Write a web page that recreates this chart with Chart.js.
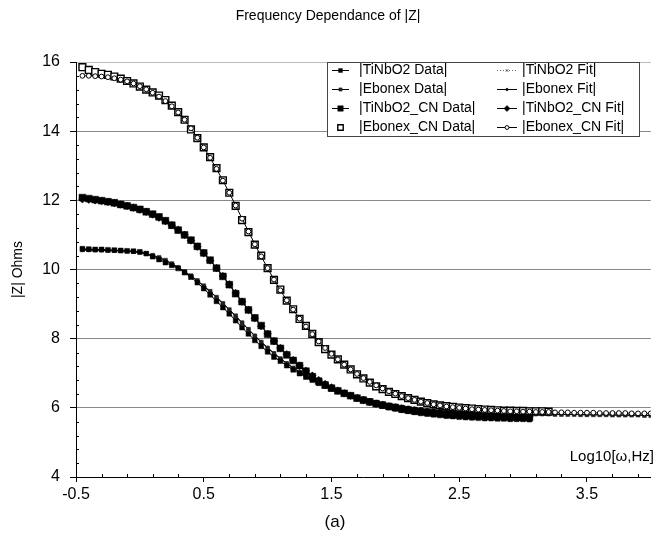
<!DOCTYPE html>
<html>
<head>
<meta charset="utf-8">
<script src="https://cdn.jsdelivr.net/npm/chart.js@4.4.1/dist/chart.umd.min.js"></script>
<style>
  body { margin: 0; background: #fff; }
  #wrap { width: 657px; height: 546px; position: relative; }
</style>
</head>
<body>
<div id="wrap"><canvas id="zChart"></canvas></div>
<script>
// log10(omega) sample points shared by all series
const logFreq = [
  -0.45, -0.4, -0.35, -0.3, -0.25, -0.2, -0.15, -0.1, -0.05, 0,
  0.05, 0.1, 0.15, 0.2, 0.25, 0.3, 0.35, 0.4, 0.45, 0.5,
  0.55, 0.6, 0.65, 0.7, 0.75, 0.8, 0.85, 0.9, 0.95, 1,
  1.05, 1.1, 1.15, 1.2, 1.25, 1.3, 1.35, 1.4, 1.45, 1.5,
  1.55, 1.6, 1.65, 1.7, 1.75, 1.8, 1.85, 1.9, 1.95, 2,
  2.05, 2.1, 2.15, 2.2, 2.25, 2.3, 2.35, 2.4, 2.45, 2.5,
  2.55, 2.6, 2.65, 2.7, 2.75, 2.8, 2.85, 2.9, 2.95, 3,
  3.05, 3.1, 3.15, 3.2, 3.25, 3.3, 3.35, 3.4, 3.45, 3.5,
  3.55, 3.6, 3.65, 3.7, 3.75, 3.8, 3.85, 3.9, 3.95, 4,
];

const tiNbO2Data = [
  10.6, 10.59, 10.58, 10.58, 10.57, 10.56, 10.55, 10.54, 10.53, 10.51,
  10.46, 10.37, 10.29, 10.2, 10.12, 10.03, 9.91, 9.78, 9.62, 9.45,
  9.27, 9.08, 8.9, 8.72, 8.52, 8.32, 8.14, 7.95, 7.78, 7.62,
  7.47, 7.35, 7.22, 7.1, 6.99, 6.89, 6.8, 6.71, 6.63, 6.55,
  6.48, 6.41, 6.34, 6.27, 6.21, 6.15, 6.1, 6.05, 6.01, 5.97,
  5.93, 5.9, 5.87, 5.84, 5.82, 5.8, 5.78, 5.76, 5.75, 5.73,
  5.72, 5.71, 5.7, 5.69, 5.69, 5.68, 5.68, 5.67, 5.67, 5.67,
  5.66,
];

const ebonexData = [
  10.57, 10.57, 10.56, 10.56, 10.55, 10.55, 10.54, 10.53, 10.52, 10.5,
  10.46, 10.41, 10.35, 10.27, 10.17, 10.06, 9.94, 9.82, 9.68, 9.53,
  9.37, 9.2, 9.02, 8.84, 8.66, 8.46, 8.27, 8.08, 7.9, 7.73,
  7.57, 7.42, 7.28, 7.15, 7.03, 6.92, 6.82, 6.73, 6.65, 6.57,
  6.5, 6.43, 6.37, 6.31, 6.26, 6.21, 6.16, 6.12, 6.08, 6.05,
  6.02, 5.99, 5.97, 5.95, 5.93, 5.92, 5.9, 5.89, 5.88, 5.87,
  5.86, 5.86, 5.85, 5.85, 5.84, 5.84, 5.84, 5.83, 5.83, 5.83,
  5.82, 5.82, 5.82, 5.82, 5.81, 5.81, 5.81, 5.81, 5.8, 5.8,
  5.8, 5.8, 5.8, 5.79, 5.79, 5.79, 5.79, 5.79, 5.78, 5.78,
];

const tiNbO2CnData = [
  12.08, 12.05, 12.02, 11.99, 11.96, 11.93, 11.88, 11.84, 11.79, 11.74,
  11.67, 11.6, 11.52, 11.41, 11.28, 11.14, 11.0, 10.85, 10.67, 10.48,
  10.27, 10.04, 9.8, 9.56, 9.3, 9.07, 8.83, 8.6, 8.38, 8.13,
  7.93, 7.72, 7.53, 7.37, 7.22, 7.06, 6.9, 6.77, 6.66, 6.57,
  6.49, 6.42, 6.35, 6.28, 6.22, 6.17, 6.12, 6.08, 6.04, 6.01,
  5.97, 5.94, 5.91, 5.89, 5.87, 5.85, 5.83, 5.81, 5.8, 5.79,
  5.78, 5.77, 5.76, 5.75, 5.75, 5.74, 5.74, 5.73, 5.73, 5.72,
  5.72,
];

const ebonexCnData = [
  15.85, 15.77, 15.71, 15.66, 15.63, 15.58, 15.52, 15.45, 15.38, 15.29,
  15.2, 15.12, 15.03, 14.9, 14.74, 14.55, 14.33, 14.05, 13.8, 13.53,
  13.25, 12.93, 12.58, 12.22, 11.84, 11.43, 11.08, 10.72, 10.4, 10.04,
  9.7, 9.42, 9.1, 8.85, 8.57, 8.37, 8.14, 7.9, 7.7, 7.54,
  7.4, 7.25, 7.11, 6.97, 6.85, 6.73, 6.62, 6.54, 6.46, 6.4,
  6.34, 6.28, 6.23, 6.18, 6.14, 6.1, 6.07, 6.05, 6.03, 6.01,
  5.99, 5.98, 5.96, 5.95, 5.94, 5.93, 5.92, 5.92, 5.91, 5.91,
  5.9, 5.9, 5.9, 5.89,
];

const tiNbO2Fit = [
  10.58, 10.58, 10.57, 10.57, 10.56, 10.56, 10.55, 10.54, 10.52, 10.5,
  10.46, 10.4, 10.32, 10.23, 10.13, 10.02, 9.9, 9.76, 9.61, 9.45,
  9.28, 9.1, 8.91, 8.72, 8.53, 8.34, 8.15, 7.97, 7.8, 7.64,
  7.49, 7.35, 7.22, 7.1, 6.99, 6.89, 6.79, 6.7, 6.62, 6.54,
  6.47, 6.4, 6.34, 6.28, 6.22, 6.17, 6.12, 6.07, 6.03, 5.99,
  5.96, 5.93, 5.9, 5.87, 5.85, 5.83, 5.81, 5.79, 5.78, 5.76,
  5.75, 5.74, 5.73, 5.72, 5.72, 5.71, 5.7, 5.7, 5.69, 5.69,
  5.69,
];

const ebonexFit = [
  10.56, 10.56, 10.56, 10.55, 10.55, 10.54, 10.54, 10.53, 10.51, 10.49,
  10.45, 10.4, 10.34, 10.26, 10.17, 10.06, 9.94, 9.81, 9.67, 9.52,
  9.36, 9.19, 9.02, 8.84, 8.65, 8.46, 8.27, 8.09, 7.91, 7.74,
  7.58, 7.43, 7.29, 7.16, 7.04, 6.93, 6.83, 6.74, 6.65, 6.57,
  6.5, 6.44, 6.38, 6.32, 6.27, 6.22, 6.17, 6.13, 6.09, 6.06,
  6.03, 6.0, 5.98, 5.96, 5.94, 5.92, 5.91, 5.9, 5.89, 5.88,
  5.87, 5.86, 5.86, 5.85, 5.85, 5.84, 5.84, 5.84, 5.83, 5.83,
  5.83, 5.82, 5.82, 5.82, 5.82, 5.81, 5.81, 5.81, 5.81, 5.8,
  5.8, 5.8, 5.8, 5.8, 5.79, 5.79, 5.79, 5.79, 5.79, 5.78,
];

const tiNbO2CnFit = [
  12.03, 12.02, 12.0, 11.98, 11.95, 11.92, 11.88, 11.84, 11.79, 11.73,
  11.67, 11.59, 11.5, 11.4, 11.28, 11.15, 11.0, 10.84, 10.66, 10.47,
  10.26, 10.04, 9.81, 9.57, 9.32, 9.07, 8.83, 8.59, 8.36, 8.14,
  7.93, 7.73, 7.55, 7.38, 7.22, 7.07, 6.93, 6.8, 6.69, 6.59,
  6.5, 6.42, 6.35, 6.28, 6.22, 6.17, 6.12, 6.08, 6.04, 6.01,
  5.98, 5.95, 5.92, 5.9, 5.88, 5.86, 5.84, 5.83, 5.81, 5.8,
  5.79, 5.78, 5.77, 5.77, 5.76, 5.76, 5.75, 5.75, 5.75, 5.74,
  5.74,
];

const ebonexCnFit = [
  15.6, 15.6, 15.59, 15.58, 15.56, 15.53, 15.49, 15.44, 15.38, 15.3,
  15.21, 15.11, 15.0, 14.87, 14.72, 14.54, 14.33, 14.08, 13.81, 13.53,
  13.23, 12.91, 12.57, 12.22, 11.85, 11.47, 11.1, 10.73, 10.38, 10.04,
  9.71, 9.4, 9.11, 8.84, 8.58, 8.35, 8.13, 7.92, 7.73, 7.56,
  7.4, 7.25, 7.11, 6.98, 6.86, 6.75, 6.65, 6.56, 6.48, 6.41,
  6.34, 6.28, 6.23, 6.18, 6.14, 6.1, 6.07, 6.04, 6.02, 6.0,
  5.98, 5.96, 5.95, 5.94, 5.93, 5.92, 5.91, 5.9, 5.9, 5.89,
  5.89, 5.88, 5.88, 5.88, 5.87, 5.87, 5.87, 5.86, 5.86, 5.86,
  5.86, 5.85, 5.85, 5.85, 5.85, 5.85, 5.84, 5.84, 5.84, 5.84,
];

const xTickLabels = [-0.5, 0.5, 1.5, 2.5, 3.5];
const yTickLabels = [4, 6, 8, 10, 12, 14, 16];

const FONT = "'Liberation Sans', Arial, sans-serif";

function toPoints(values) {
  return values.map((v, i) => ({ x: logFreq[i], y: v }));
}

const datasets = [
  {
    label: "|TiNbO2 Data|",
    data: toPoints(tiNbO2Data),
    borderColor: "#000",
    borderWidth: 1,
    pointStyle: "rect",
    pointRadius: 3.4,
    pointBackgroundColor: "#000",
    pointBorderColor: "#000",
    pointBorderWidth: 0.5,
    order: 5,
  },
  {
    label: "|Ebonex Data|",
    data: toPoints(ebonexData),
    borderColor: "#000",
    borderWidth: 1,
    pointStyle: "rect",
    pointRadius: 2.8,
    pointBackgroundColor: "#222",
    pointBorderColor: "#222",
    pointBorderWidth: 0.5,
    order: 6,
  },
  {
    label: "|TiNbO2_CN Data|",
    data: toPoints(tiNbO2CnData),
    borderColor: "#000",
    borderWidth: 1,
    pointStyle: "rect",
    pointRadius: 4.8,
    pointBackgroundColor: "#000",
    pointBorderColor: "#000",
    pointBorderWidth: 0.5,
    order: 4,
  },
  {
    label: "|Ebonex_CN Data|",
    data: toPoints(ebonexCnData),
    showLine: false,
    borderColor: "#000",
    pointStyle: "rect",
    pointRadius: 4.8,
    pointBackgroundColor: "#fff",
    pointBorderColor: "#000",
    pointBorderWidth: 1.4,
    order: 3,
  },
  {
    label: "|TiNbO2 Fit|",
    data: toPoints(tiNbO2Fit),
    borderColor: "#666",
    borderWidth: 1,
    borderDash: [1, 2],
    pointStyle: "crossRot",
    pointRadius: 2.2,
    pointBorderColor: "#555",
    pointBorderWidth: 1,
    order: 7,
  },
  {
    label: "|Ebonex Fit|",
    data: toPoints(ebonexFit),
    borderColor: "#000",
    borderWidth: 1,
    pointStyle: "circle",
    pointRadius: 1.6,
    pointBackgroundColor: "#000",
    pointBorderColor: "#000",
    pointBorderWidth: 0.5,
    order: 8,
  },
  {
    label: "|TiNbO2_CN Fit|",
    data: toPoints(tiNbO2CnFit),
    borderColor: "#000",
    borderWidth: 1,
    pointStyle: "rectRot",
    pointRadius: 3.8,
    pointBackgroundColor: "#000",
    pointBorderColor: "#000",
    pointBorderWidth: 0.5,
    order: 2,
  },
  {
    label: "|Ebonex_CN Fit|",
    data: toPoints(ebonexCnFit),
    borderColor: "#000",
    borderWidth: 1,
    pointStyle: "circle",
    pointRadius: 2.4,
    pointBackgroundColor: "#fff",
    pointBorderColor: "#000",
    pointBorderWidth: 1,
    order: 1,
  },
];

function drawMarker(ctx, ds, x, y, scale) {
  ctx.save();
  ctx.fillStyle = ds.pointBackgroundColor || "#000";
  ctx.strokeStyle = ds.pointBorderColor || "#000";
  ctx.lineWidth = ds.pointBorderWidth || 1;
  Chart.helpers.drawPoint(ctx, {
    pointStyle: ds.pointStyle,
    radius: ds.pointRadius * scale,
    rotation: 0,
    borderWidth: ds.pointBorderWidth || 1,
  }, x, y);
  ctx.restore();
}

// legend box in the top right corner of the plot, two columns
const boxLegend = {
  id: "boxLegend",
  afterDraw(chart) {
    const ctx = chart.ctx;
    const left = 327, top = 62, right = 639, bottom = 136;
    ctx.save();
    ctx.fillStyle = "#fff";
    ctx.fillRect(left, top, right - left, bottom - top);
    ctx.strokeStyle = "#444";
    ctx.lineWidth = 1;
    ctx.strokeRect(left + 0.5, top + 0.5, right - left, bottom - top);
    ctx.font = "14px " + FONT;
    ctx.textBaseline = "middle";
    const rows = [70, 89, 108, 127];
    const cols = [
      { x0: 332, x1: 349, text: 359 },
      { x0: 497, x1: 517, text: 522 },
    ];
    for (let c = 0; c < 2; c++) {
      for (let r = 0; r < 4; r++) {
        const ds = datasets[c * 4 + r];
        const y = rows[r];
        const col = cols[c];
        if (ds.showLine !== false) {
          ctx.save();
          ctx.strokeStyle = ds.borderColor;
          ctx.lineWidth = 1;
          ctx.setLineDash(ds.borderDash || []);
          ctx.beginPath();
          ctx.moveTo(col.x0, y + 0.5);
          ctx.lineTo(col.x1, y + 0.5);
          ctx.stroke();
          ctx.restore();
        }
        drawMarker(ctx, ds, (col.x0 + col.x1) / 2, y + 0.5, 0.8);
        ctx.fillStyle = "#000";
        ctx.fillText(ds.label, col.text, y);
      }
    }
    ctx.restore();
  },
};

// minor tick marks and the extra labels inside / under the plot
const extras = {
  id: "extras",
  afterDraw(chart) {
    const ctx = chart.ctx;
    const xs = chart.scales.x;
    const ys = chart.scales.y;
    const area = chart.chartArea;
    ctx.save();
    ctx.strokeStyle = "#000";
    ctx.lineWidth = 1;
    ctx.beginPath();
    for (let k = 1; k < 30; k++) {
      if (k % 5 === 0) continue;
      const py = Math.round(ys.getPixelForValue(4 + k * 0.4)) + 0.5;
      ctx.moveTo(area.left, py);
      ctx.lineTo(area.left + 3, py);
    }
    for (let k = 1; k <= 22; k++) {
      if (k % 5 === 0) continue;
      const px = Math.round(xs.getPixelForValue(-0.5 + k * 0.2)) + 0.5;
      ctx.moveTo(px, area.bottom);
      ctx.lineTo(px, area.bottom - 3);
    }
    ctx.stroke();
    ctx.fillStyle = "#000";
    ctx.textBaseline = "middle";
    ctx.font = "15px " + FONT;
    ctx.textAlign = "right";
    ctx.fillText("Log10[\u03c9,Hz]", 654, 457);
    ctx.font = "17px " + FONT;
    ctx.textAlign = "center";
    ctx.fillText("(a)", 335, 522);
    ctx.restore();
  },
};

const zChart = new Chart(document.getElementById("zChart"), {
  type: "line",
  data: { datasets: datasets },
  options: {
    responsive: true,
    maintainAspectRatio: false,
    animation: false,
    layout: { padding: { left: 0, right: 1, top: 0, bottom: 0 } },
    elements: { line: { tension: 0 } },
    plugins: {
      legend: { display: false },
      tooltip: { enabled: false },
      title: {
        display: true,
        text: "Frequency Dependance of |Z|",
        color: "#000",
        font: { family: FONT, size: 14, weight: "normal" },
        padding: { top: 8, bottom: 37.2 },
      },
    },
    scales: {
      x: {
        type: "linear",
        min: -0.5,
        max: 4,
        afterBuildTicks: (scale) => {
          scale.ticks = xTickLabels.map((v) => ({ value: v }));
        },
        afterFit: (scale) => {
          scale.height = 69;
        },
        ticks: {
          color: "#000",
          font: { family: FONT, size: 16 },
          padding: 3,
          maxRotation: 0,
          autoSkip: false,
          callback: (v) => v.toFixed(1),
        },
        grid: {
          drawOnChartArea: false,
          tickLength: 5,
          tickColor: "#000",
        },
        border: { color: "#000", width: 1 },
      },
      y: {
        type: "linear",
        min: 4,
        max: 16,
        afterBuildTicks: (scale) => {
          scale.ticks = yTickLabels.map((v) => ({ value: v }));
        },
        afterFit: (scale) => {
          scale.width = 76;
        },
        title: {
          display: true,
          text: "|Z| Ohms",
          color: "#000",
          font: { family: FONT, size: 14 },
          padding: { top: 10, bottom: 0 },
        },
        ticks: {
          color: "#000",
          font: { family: FONT, size: 16 },
          padding: 10,
          autoSkip: false,
        },
        grid: {
          color: (c) => (c.tick.value === 16 ? "#bbb" : c.tick.value === 4 ? "rgba(0,0,0,0)" : "#888"),
          tickColor: "#000",
          tickLength: 6,
        },
        border: { color: "#000", width: 1 },
      },
    },
  },
  plugins: [boxLegend, extras],
});
</script>
</body>
</html>
